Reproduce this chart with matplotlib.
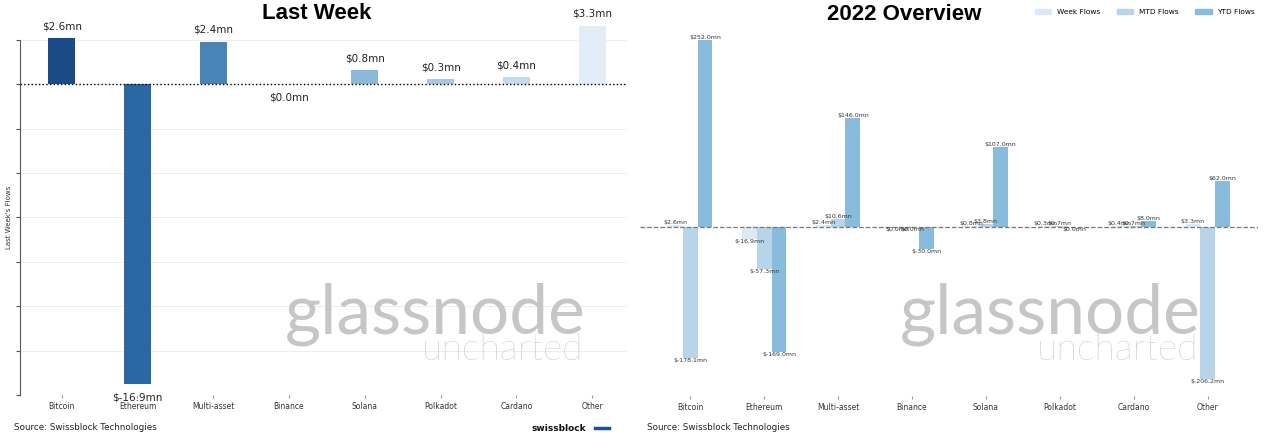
import numpy as np
import matplotlib.pyplot as plt
from matplotlib.patches import Patch

#%% data

assets = ['Bitcoin', 'Ethereum', 'Multi-asset', 'Binance', 'Solana', 'Polkadot', 'Cardano', 'Other']

week_flows = [2.6, -16.9, 2.4, 0.0, 0.8, 0.3, 0.4, 3.3]
mtd_flows = [-178.1, -57.3, 10.6, 0.0, 3.8, 0.7, 0.7, -206.2]
ytd_flows = [252.0, -169.0, 146.0, -30.0, 107.0, 0.0, 8.0, 62.0]

week_colors = ['#1b4b86', '#2b68a3', '#4884b6', '#6a9fcb', '#8db8d8', '#a9c8e0', '#c5daec', '#e3edf7']

#%% figure

fig = plt.figure(figsize=(12.68, 4.44), dpi=100)
fig.patch.set_facecolor('white')

x = np.arange(len(assets))

# watermark first so it sits behind
for gx in [0.462, 0.947]:
    fig.text(gx, 0.25, 'glassnode', fontsize=50, family='Lato', color='#c6c6c6',
             ha='right', va='baseline', zorder=0)
    fig.text(gx - 0.002, 0.19, 'uncharted', fontsize=27, family='Lato', weight='light',
             color='#b4b4b4', ha='right', va='baseline', zorder=0)

#%% left panel - last week

ax1 = fig.add_axes([0.0158, 0.1104, 0.4787, 0.7996])
ax1.patch.set_alpha(0)
bars = ax1.bar(x, week_flows, width=0.36, color=week_colors, clip_on=False, zorder=3)
ax1.set_ylim(-17.5, 2.5)
ax1.set_xlim(-0.55, 7.46)
ax1.set_yticks(np.arange(-17.5, 2.6, 2.5))
ax1.set_yticklabels([])
ax1.yaxis.grid(True, color='#eeeeee', lw=0.8, zorder=0)
ax1.axhline(0, color='black', ls=':', lw=1, zorder=4)
for s in ['top', 'right', 'bottom']:
    ax1.spines[s].set_visible(False)
ax1.spines['left'].set_color('#555555')
ax1.tick_params(axis='y', length=3, color='#555555')
ax1.set_xticks(x)
ax1.set_xticklabels(assets, fontsize=5.5, color='#333333')
ax1.tick_params(axis='x', length=2, color='#999999', pad=3)
ax1.set_ylabel("Last Week's Flows", fontsize=5, color='#333333', labelpad=-1)

for b, v in zip(bars, week_flows):
    if v > 0:
        ax1.annotate('$%.1fmn' % v, (b.get_x() + b.get_width() / 2, v), xytext=(0, 5),
                     textcoords='offset points', ha='center', va='bottom', fontsize=7.5,
                     color='#222222', annotation_clip=False)
    else:
        ax1.annotate('$%.1fmn' % v, (b.get_x() + b.get_width() / 2, v), xytext=(0, -6),
                     textcoords='offset points', ha='center', va='top', fontsize=7.5,
                     color='#222222', annotation_clip=False)

fig.text(0.25, 0.97, 'Last Week', fontsize=16, weight='bold', family='Liberation Sans',
         ha='center', va='center')

#%% right panel - 2022 overview

ax2 = fig.add_axes([0.5047, 0.108, 0.4874, 0.84])
ax2.patch.set_alpha(0)
w = 0.2
series = [(week_flows, '#dce9f5', 'Week Flows', -w),
          (mtd_flows, '#b7d4ea', 'MTD Flows', 0),
          (ytd_flows, '#88bbdc', 'YTD Flows', w)]
for vals, col, lab, off in series:
    bb = ax2.bar(x + off, vals, width=w, color=col, label=lab, zorder=3)
    for b, v in zip(bb, vals):
        cx = b.get_x() + b.get_width() / 2
        if v > 0:
            ax2.text(cx, v, '$%.1fmn' % v, ha='center', va='bottom', fontsize=4.5, color='#333333', zorder=5)
        else:
            ax2.text(cx, v, '$%.1fmn' % v, ha='center', va='top', fontsize=4.5, color='#333333', zorder=5)

ax2.axhline(0, color='#777777', ls='--', lw=0.9, zorder=4)
for s in ax2.spines.values():
    s.set_visible(False)
ax2.set_yticks([])
ax2.set_xticks(x)
ax2.set_xticklabels(assets, fontsize=5.5, color='#333333')
ax2.tick_params(axis='x', length=2, color='#999999', pad=3)

handles = [Patch(color=c, label=l) for _, c, l, _ in series]
fig.legend(handles=handles, loc='upper right', bbox_to_anchor=(0.995, 0.995), ncol=3,
           frameon=False, fontsize=5.3, handlelength=2.2, handleheight=0.6, columnspacing=2.3)

fig.text(0.713, 0.968, '2022 Overview', fontsize=16, weight='bold', family='Liberation Sans',
         ha='center', va='center')

#%% footer

fig.text(0.011, 0.038, 'Source: Swissblock Technologies', fontsize=6.3, color='#222222', va='center')
fig.text(0.51, 0.038, 'Source: Swissblock Technologies', fontsize=6.3, color='#222222', va='center')
fig.text(0.462, 0.036, 'swissblock', fontsize=6.5, weight='bold', color='#111111', ha='right', va='center')
fig.add_artist(plt.Line2D([0.469, 0.48], [0.036, 0.036], color='#1f4e9c', lw=2.5))

fig.savefig('out.png', dpi=100)
